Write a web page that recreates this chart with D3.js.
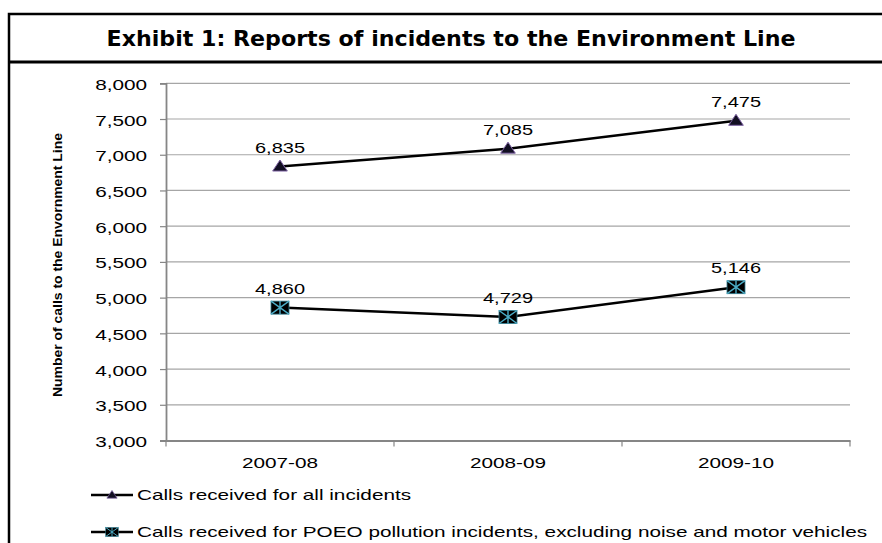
<!DOCTYPE html>
<html><head><meta charset="utf-8">
<script src="https://cdn.jsdelivr.net/npm/d3@7"></script>
<style>body{margin:0;background:#fff}svg{display:block}</style>
</head><body>
<script>
const categories = ["2007-08", "2008-09", "2009-10"];
const allIncidents = [6835, 7085, 7475];
const poeoIncidents = [4860, 4729, 5146];
const yTicks = [3000, 3500, 4000, 4500, 5000, 5500, 6000, 6500, 7000, 7500, 8000];
const seriesNames = ["Calls received for all incidents", "Calls received for POEO pollution incidents, excluding noise and motor vehicles"];
const titleText = "Exhibit 1: Reports of incidents to the Environment Line";
const yLabel = "Number of calls to the Envornment Line";

const W = 882, H = 543;
const SX = 1.43; // horizontal stretch of the picture's lettering
const font = "Liberation Sans, Arial, sans-serif";
const svg = d3.select("body").append("svg").attr("width", W).attr("height", H);

function stretchText(sel, x, y) {
  return sel.attr("transform", d => `translate(${typeof x === "function" ? x(d) : x},${typeof y === "function" ? y(d) : y}) scale(${SX},1)`);
}

// frame
svg.append("rect").attr("x", 9).attr("y", 14).attr("width", 890).attr("height", 560)
  .attr("fill", "none").attr("stroke", "#000").attr("stroke-width", 2.5);
svg.append("line").attr("x1", 9).attr("x2", 900).attr("y1", 62).attr("y2", 62)
  .attr("stroke", "#000").attr("stroke-width", 3);
svg.append("text").attr("x", 451).attr("y", 46).attr("text-anchor", "middle")
  .attr("font-family", "DejaVu Sans, Verdana, sans-serif").attr("font-weight", "bold")
  .attr("font-size", 21.5).attr("textLength", 689).attr("lengthAdjust", "spacingAndGlyphs")
  .attr("fill", "#000").text(titleText);

const x = d3.scaleBand().domain(categories).range([166, 850]);
const y = d3.scaleLinear().domain([3000, 8000]).range([440.5, 83.3]);

// gridlines
svg.append("g").selectAll("line").data(yTicks.filter(t => t > 3000)).join("line")
  .attr("x1", 166).attr("x2", 850).attr("y1", d => y(d)).attr("y2", d => y(d))
  .attr("stroke", "#a6a6a6").attr("stroke-width", 1.2);

// y axis
const yAxis = d3.axisLeft(y).tickValues(yTicks).tickFormat(d3.format(",")).tickSize(6);
const gy = svg.append("g").attr("transform", "translate(166,0)").call(yAxis);
gy.select(".domain").attr("stroke", "#868686").attr("stroke-width", 1.8);
gy.selectAll(".tick line").attr("stroke", "#868686").attr("stroke-width", 1.2);
gy.selectAll(".tick text").attr("x", null).attr("dy", null)
  .attr("font-family", font).attr("font-size", 14.5).attr("fill", "#000")
  .attr("text-anchor", "end")
  .attr("transform", `translate(-19,6) scale(${SX},1)`);

// x axis
const xAxis = d3.axisBottom(x).tickSize(0);
const gx = svg.append("g").attr("transform", `translate(0,${y(3000)})`).call(xAxis);
gx.select(".domain").attr("stroke", "#868686").attr("stroke-width", 1.8);
gx.selectAll(".tick text").attr("y", null).attr("dy", null)
  .attr("font-family", font).attr("font-size", 14.5).attr("fill", "#000")
  .attr("text-anchor", "middle")
  .attr("transform", `translate(0,27.5) scale(${SX},1)`);
// category boundary ticks
const bounds = categories.map(c => x(c)).concat([x.range()[1]]);
svg.append("g").selectAll("line").data(bounds).join("line")
  .attr("x1", d => d).attr("x2", d => d).attr("y1", y(3000)).attr("y2", y(3000) + 6)
  .attr("stroke", "#868686").attr("stroke-width", 1.2);

// y label
svg.append("text").attr("transform", "translate(61.5,265) rotate(-90)").attr("text-anchor", "middle")
  .attr("font-family", "Liberation Sans, Arial").attr("font-weight", "bold")
  .attr("font-size", 13.5).attr("textLength", 264).attr("lengthAdjust", "spacingAndGlyphs")
  .attr("fill", "#000").text(yLabel);

const cx = d => x(d) + x.bandwidth() / 2;
const line = d3.line().x(d => cx(d.c)).y(d => y(d.v));

function drawTri(g) {
  g.append("path").attr("d", "M0,-6.5 L7.3,4.5 L-7.3,4.5 Z").attr("fill", "#120f22")
    .attr("stroke", "#7a5fa0").attr("stroke-width", 1);
}
function drawSq(g) {
  g.append("rect").attr("x", -9).attr("y", -6.5).attr("width", 18).attr("height", 13).attr("fill", "#000")
    .attr("stroke", "#2f7f93").attr("stroke-width", 0.8);
  g.append("path").attr("d", "M-9,-6.5 L9,6.5 M-9,6.5 L9,-6.5 M0,-6.5 L0,6.5")
    .attr("stroke", "#4bacc6").attr("stroke-width", 1.4);
}
function drawSeries(vals, kind) {
  const data = categories.map((c, i) => ({c, v: vals[i]}));
  svg.append("path").datum(data).attr("d", line).attr("fill", "none")
    .attr("stroke", "#000").attr("stroke-width", 2.5);
  const g = svg.append("g").selectAll("g").data(data).join("g")
    .attr("transform", d => `translate(${cx(d.c)},${y(d.v)})`);
  if (kind === "tri") drawTri(g); else drawSq(g);
  const t = svg.append("g").selectAll("text").data(data).join("text")
    .attr("text-anchor", "middle")
    .attr("font-family", font).attr("font-size", 14).attr("fill", "#000")
    .text(d => d3.format(",")(d.v));
  stretchText(t, d => cx(d.c), d => y(d.v) - 14);
}
drawSeries(allIncidents, "tri");
drawSeries(poeoIncidents, "sq");

// legend
const legY = [495, 532];
seriesNames.forEach((n, i) => {
  const lg = svg.append("g");
  lg.append("line").attr("x1", 91).attr("x2", 133).attr("y1", legY[i]).attr("y2", legY[i])
    .attr("stroke", "#000").attr("stroke-width", 2.5);
  const m = lg.append("g").attr("transform", `translate(112,${legY[i]}) scale(0.7)`);
  if (i === 0) drawTri(m); else drawSq(m);
  const t = lg.append("text").attr("font-family", font)
    .attr("font-size", 14.5).attr("fill", "#000").text(n);
  stretchText(t, 137, legY[i] + 5);
});
</script>
</body></html>
